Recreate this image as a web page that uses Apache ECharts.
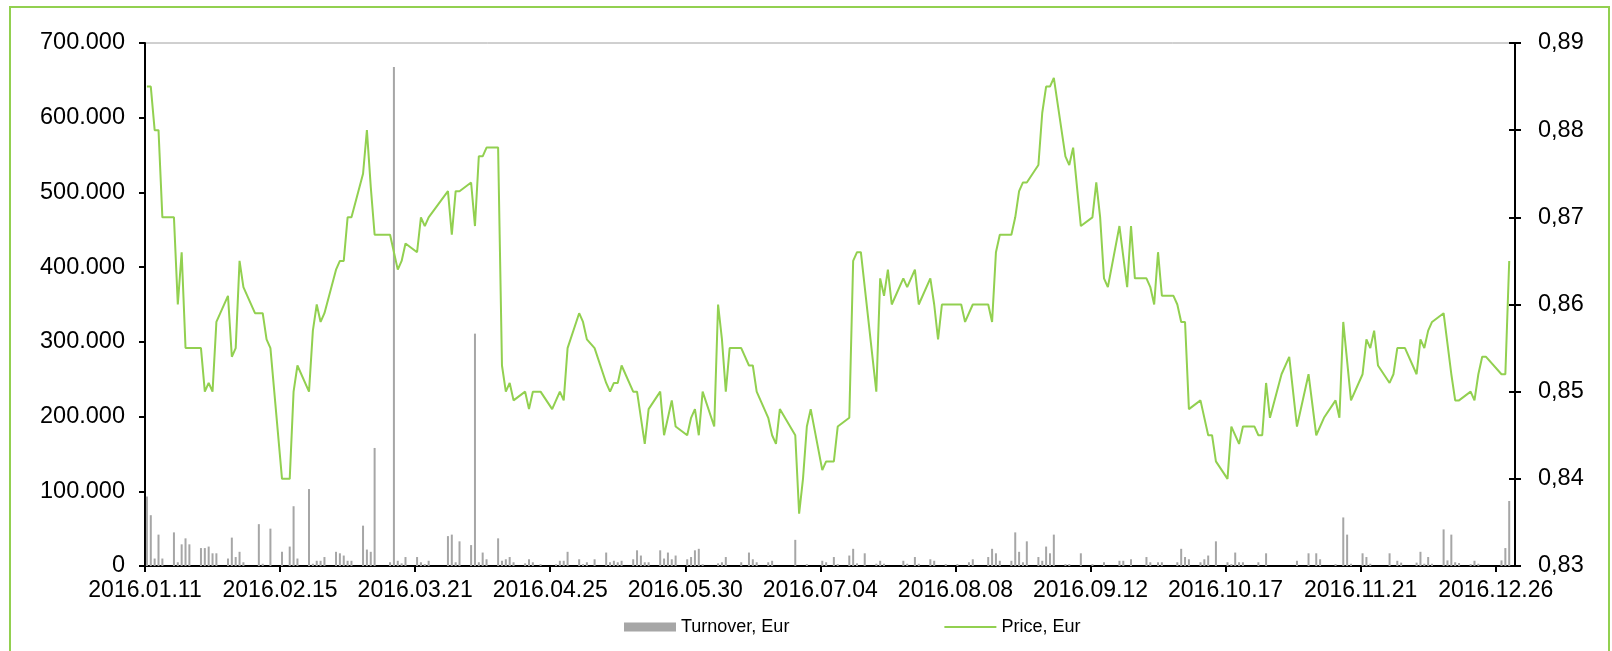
<!DOCTYPE html>
<html>
<head>
<meta charset="utf-8">
<script src="https://cdn.jsdelivr.net/npm/echarts@6/dist/echarts.min.js"></script>
<style>
  html, body { margin: 0; padding: 0; background: #fff; }
  #chart { width: 1612px; height: 651px; }
</style>
</head>
<body>
<div id="chart"></div>
<script>
// all dates are 2016, written as MM.DD
const tickLabels = ['2016.01.11', '2016.02.15', '2016.03.21', '2016.04.25', '2016.05.30', '2016.07.04',
  '2016.08.08', '2016.09.12', '2016.10.17', '2016.11.21', '2016.12.26'];

const priceDates = [
  '01.11','01.12','01.13','01.14','01.15','01.18','01.19','01.20','01.21','01.25','01.26','01.27','01.28','01.29',
  '02.01','02.02','02.03','02.04','02.05','02.08','02.10','02.11','02.12','02.15','02.17','02.18','02.19','02.22','02.23','02.24','02.25','02.26','02.29',
  '03.01','03.02','03.03','03.04','03.07','03.08','03.09','03.10','03.14','03.16','03.17','03.18','03.21','03.22','03.23','03.24','03.29','03.30','03.31',
  '04.01','04.04','04.05','04.06','04.07','04.08','04.11','04.12','04.13','04.14','04.15','04.18','04.19','04.20','04.22','04.25','04.27','04.28','04.29',
  '05.02','05.03','05.04','05.06','05.09','05.10','05.11','05.12','05.13','05.16','05.17','05.19','05.20','05.23','05.24','05.26','05.27','05.30','05.31',
  '06.01','06.02','06.03','06.06','06.07','06.08','06.09','06.10','06.13','06.15','06.16','06.17','06.20','06.21','06.22','06.23','06.27','06.28','06.29','06.30',
  '07.01','07.04','07.05','07.07','07.08','07.11','07.12','07.13','07.14','07.18','07.19','07.20','07.21','07.22','07.25','07.26','07.28','07.29',
  '08.01','08.02','08.03','08.04','08.09','08.10','08.12','08.16','08.17','08.18','08.19','08.22','08.23','08.24','08.25','08.26','08.29','08.30','08.31',
  '09.01','09.02','09.05','09.06','09.07','09.09','09.12','09.13','09.14','09.15','09.16','09.19','09.21','09.22','09.23','09.26','09.27','09.28','09.29','09.30',
  '10.03','10.04','10.05','10.06','10.07','10.10','10.12','10.13','10.14','10.17','10.18','10.20','10.21','10.24','10.25','10.26','10.27','10.28','10.31',
  '11.02','11.04','11.07','11.09','11.11','11.14','11.15','11.16','11.18','11.21','11.22','11.23','11.24','11.25','11.28','11.29','11.30',
  '12.02','12.05','12.06','12.07','12.08','12.09','12.12','12.14','12.15','12.16','12.19','12.20','12.21','12.22','12.23','12.27','12.28','12.29'
];
const prices = [
  0.885,0.885,0.880,0.880,0.870,0.870,0.860,0.866,0.855,0.855,0.850,0.851,0.850,0.858,
  0.861,0.854,0.855,0.865,0.862,0.859,0.859,0.856,0.855,0.840,0.840,0.850,0.853,0.850,0.857,0.860,0.858,0.859,0.864,
  0.865,0.865,0.870,0.870,0.875,0.880,0.8735,0.868,0.868,0.864,0.865,0.867,0.866,0.870,0.869,0.870,0.873,0.868,0.873,
  0.873,0.874,0.869,0.877,0.877,0.878,0.878,0.853,0.850,0.851,0.849,0.850,0.848,0.850,0.850,0.848,0.850,0.849,0.855,
  0.859,0.858,0.856,0.855,0.851,0.850,0.851,0.851,0.853,0.850,0.850,0.844,0.848,0.850,0.845,0.849,0.846,0.845,0.847,
  0.848,0.845,0.850,0.846,0.860,0.856,0.850,0.855,0.855,0.853,0.853,0.850,0.847,0.845,0.844,0.848,0.845,0.836,0.840,0.846,
  0.848,0.841,0.842,0.842,0.846,0.847,0.865,0.866,0.866,0.850,0.863,0.861,0.864,0.860,0.863,0.862,0.864,0.860,
  0.863,0.860,0.856,0.860,0.860,0.858,0.860,0.860,0.858,0.866,0.868,0.868,0.870,0.873,0.874,0.874,0.876,0.882,0.885,
  0.885,0.886,0.877,0.876,0.878,0.869,0.870,0.874,0.870,0.863,0.862,0.869,0.862,0.869,0.863,0.863,0.862,0.860,0.866,0.861,
  0.861,0.860,0.858,0.858,0.848,0.849,0.845,0.845,0.842,0.840,0.846,0.844,0.846,0.846,0.845,0.845,0.851,0.847,0.852,
  0.854,0.846,0.852,0.845,0.847,0.849,0.847,0.858,0.849,0.852,0.856,0.855,0.857,0.853,0.851,0.852,0.855,
  0.855,0.852,0.856,0.855,0.857,0.858,0.859,0.852,0.849,0.849,0.850,0.849,0.852,0.854,0.854,0.852,0.852,0.865
];

const turnoverDates = [
  '01.11','01.12','01.13','01.14','01.15','01.18','01.19','01.20','01.21','01.22','01.25','01.26','01.27','01.28','01.29',
  '02.01','02.02','02.03','02.04','02.05','02.09','02.10','02.12','02.15','02.17','02.18','02.19','02.22','02.23','02.24','02.25','02.26','02.29',
  '03.01','03.02','03.03','03.04','03.07','03.08','03.09','03.10','03.14','03.15','03.16','03.17','03.18','03.21','03.22','03.23','03.24','03.29','03.30','03.31',
  '04.01','04.04','04.05','04.06','04.07','04.08','04.11','04.12','04.13','04.14','04.15','04.18','04.19','04.20','04.22','04.26','04.27','04.28','04.29',
  '05.02','05.03','05.04','05.06','05.09','05.10','05.11','05.12','05.13','05.16','05.17','05.18','05.19','05.20','05.23','05.24','05.25','05.26','05.27','05.30','05.31',
  '06.01','06.02','06.03','06.07','06.08','06.09','06.13','06.15','06.16','06.17','06.20','06.21','06.27','06.30',
  '07.04','07.05','07.07','07.08','07.11','07.12','07.13','07.15','07.18','07.19','07.20','07.25','07.26','07.28','07.29',
  '08.01','08.02','08.05','08.08','08.11','08.12','08.16','08.17','08.18','08.19','08.22','08.23','08.24','08.25','08.26','08.29','08.30','08.31',
  '09.01','09.02','09.05','09.06','09.09','09.12','09.15','09.19','09.20','09.22','09.26','09.27','09.29','09.30',
  '10.04','10.05','10.06','10.07','10.10','10.11','10.12','10.14','10.17','10.18','10.19','10.20','10.21','10.25','10.27',
  '11.04','11.07','11.09','11.10','11.14','11.16','11.17','11.18','11.21','11.22','11.23','11.28','11.30',
  '12.01','12.05','12.06','12.07','12.08','12.09','12.12','12.13','12.14','12.15','12.16','12.19','12.20','12.21','12.27','12.28','12.29'
];
const turnover = [
  93000,68000,10000,42000,10000,45000,5000,29000,37000,29000,24000,24000,26000,17000,17000,
  10000,38000,12000,19000,5000,56000,3000,50000,19000,26000,80000,10000,103000,3000,7000,7000,12000,19000,
  17000,14000,7000,7000,54000,22000,19000,158000,5000,668000,7000,3500,12000,12000,5000,2500,7000,40000,42000,5000,
  33000,28000,311000,5000,18000,9000,37000,7000,9000,12000,5000,3500,9000,5000,2500,2500,7000,7000,19000,
  9000,2500,5000,9000,18000,5000,7000,5000,7000,9000,21000,14000,5000,5000,21000,10000,18000,9000,14000,9000,12000,
  21000,23000,2500,3500,5000,12000,5000,18000,9000,5000,5000,7000,35000,2500,
  7000,5000,12000,2500,14000,23000,3500,17000,3000,7000,3000,7000,3000,12000,3000,
  9000,7000,2500,2500,5000,9000,12000,23000,17000,7000,7000,45000,19000,5000,33000,12000,7000,26000,
  17000,42000,2500,2500,17000,2500,5000,7000,7000,9000,12000,5000,5000,5000,
  5000,23000,12000,9000,5000,9000,14000,33000,5000,2500,18000,5000,5000,5000,17000,
  7000,17000,17000,9000,2500,65000,42000,3000,17000,12000,3000,17000,7000,
  4500,4500,19000,3000,12000,3000,49000,7500,42000,5000,4000,2500,7000,3000,7500,24000,87000
];

const DAY = 86400000;
const t0 = Date.UTC(2016, 0, 11);
function dayIndex(md) {
  const [m, d] = md.split('.').map(Number);
  return Math.round((Date.UTC(2016, m - 1, d) - t0) / DAY);
}
// each day takes one slot, mark sits in the middle of it
const pos = md => dayIndex(md) + 0.5;

const priceData = priceDates.map((d, i) => [pos(d), prices[i]]);
const turnoverData = turnoverDates.map((d, i) => [pos(d), turnover[i]]);

const fontFamily = '"Liberation Sans", Arial, sans-serif';
const green = '#92d050';
const gray = '#a6a6a6';

const chart = echarts.init(document.getElementById('chart'));

const option = {
  animation: false,
  backgroundColor: '#fff',
  textStyle: { fontFamily: fontFamily, color: '#000' },
  graphic: [{
    type: 'rect',
    shape: { x: 10, y: 7, width: 1599, height: 660 },
    style: { fill: 'none', stroke: green, lineWidth: 2 },
    silent: true
  }],
  grid: {
    left: 145, right: 97, top: 43, bottom: 85,
    show: true, borderColor: '#a0a0a0', borderWidth: 1,
    outerBoundsMode: 'none'
  },
  legend: {
    left: 619, top: 613,
    itemWidth: 52, itemHeight: 9, itemGap: 155,
    symbolKeepAspect: true,
    textStyle: { fontFamily: fontFamily, fontSize: 18, color: '#000' },
    data: [
      { name: 'Turnover, Eur', icon: 'rect' },
      { name: 'Price, Eur', icon: 'path://M0,0L52,0L52,2L0,2Z' }
    ]
  },
  xAxis: {
    type: 'value',
    min: 0, max: 355, interval: 35,
    axisLine: { lineStyle: { color: '#000', width: 2 } },
    axisTick: { length: 6, lineStyle: { color: '#000', width: 2 } },
    axisLabel: {
      margin: 13, fontSize: 23, color: '#000', fontFamily: fontFamily,
      showMaxLabel: false,
      formatter: v => (v % 35 === 0 && tickLabels[v / 35]) || ''
    },
    splitLine: { show: false }
  },
  yAxis: [{
    type: 'value', position: 'left',
    min: 0, max: 700000, interval: 100000,
    axisLine: { show: true, lineStyle: { color: '#000', width: 2 } },
    axisTick: { show: true, length: 6, lineStyle: { color: '#000', width: 2 } },
    axisLabel: {
      margin: 20, fontSize: 23.5, color: '#000', fontFamily: fontFamily,
      formatter: v => v === 0 ? '0' : (v / 1000) + '.000'
    },
    splitLine: { show: false }
  }, {
    type: 'value', position: 'right',
    min: 0.83, max: 0.89, interval: 0.01,
    axisLine: { show: true, lineStyle: { color: '#000', width: 2 } },
    axisTick: { show: true, length: 6, lineStyle: { color: '#000', width: 2 } },
    axisLabel: {
      margin: 23, fontSize: 23.5, color: '#000', fontFamily: fontFamily,
      formatter: v => v.toFixed(2).replace('.', ',')
    },
    splitLine: { show: false }
  }, {
    // inner half of the cross ticks on the right axis
    type: 'value', position: 'right',
    min: 0.83, max: 0.89, interval: 0.01,
    axisLine: { show: false },
    axisTick: { show: true, inside: true, length: 6, lineStyle: { color: '#000', width: 2 } },
    axisLabel: { show: false },
    splitLine: { show: false }
  }],
  series: [{
    name: 'Turnover, Eur',
    type: 'bar',
    yAxisIndex: 0,
    barWidth: 2,
    itemStyle: { color: gray },
    data: turnoverData
  }, {
    name: 'Price, Eur',
    type: 'line',
    yAxisIndex: 1,
    symbol: 'none',
    lineStyle: { color: green, width: 2 },
    itemStyle: { color: green },
    data: priceData,
    z: 3
  }]
};

chart.setOption(option);
</script>
</body>
</html>
